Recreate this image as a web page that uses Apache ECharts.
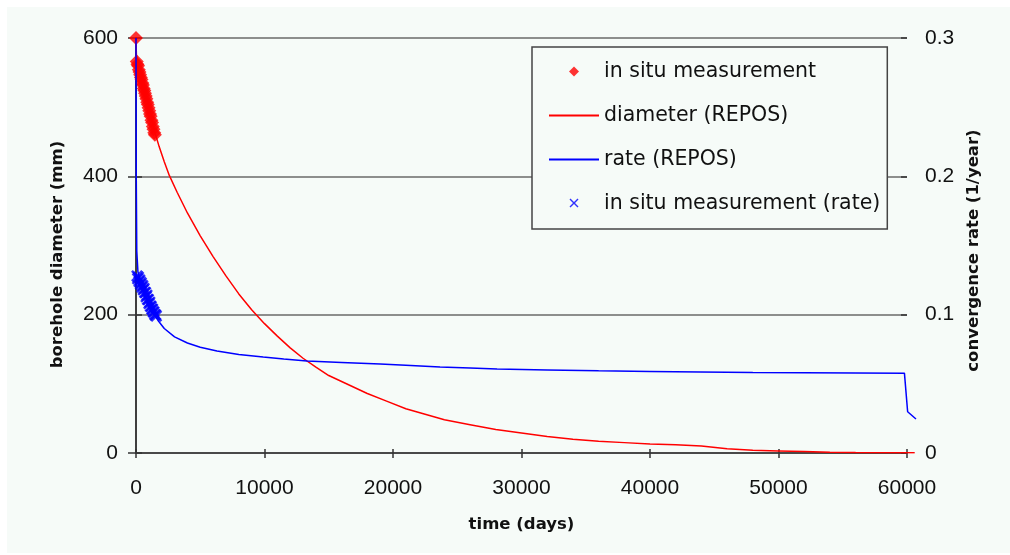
<!DOCTYPE html>
<html>
<head>
<meta charset="utf-8">
<script src="https://cdn.jsdelivr.net/npm/echarts@6/dist/echarts.min.js"></script>
<style>
  html, body { margin: 0; padding: 0; background: #ffffff; }
  #panel { position: absolute; left: 7px; top: 7px; width: 1003px; height: 546px; background: #f6fbf8; }
  #chart { position: absolute; left: 0; top: 0; width: 1010px; height: 555px; }
</style>
</head>
<body>
<div id="panel"></div>
<div id="chart"></div>
<script>
// time (days) ticks
const timeTicks = [0, 10000, 20000, 30000, 40000, 50000, 60000];
// the model curves run a little past the last tick
const modelEnd = 60700;

// in situ borehole diameter measurements [days, mm]
const diameterMeasured = [
  [0, 600],
  [60, 566], [110, 562], [160, 560], [220, 554], [270, 551], [320, 547],
  [380, 543], [430, 540], [490, 535], [540, 532], [600, 527], [650, 524],
  [700, 520], [760, 516], [810, 512], [870, 507], [920, 504], [980, 499],
  [1030, 495], [1090, 490], [1140, 487], [1200, 481], [1250, 478],
  [1310, 472], [1360, 468], [1420, 463], [1470, 460]
];

// REPOS model: borehole diameter [days, mm]
const diameterModel = [
  [0, 600], [30, 576], [200, 561], [500, 538], [800, 514], [1100, 492],
  [1400, 468], [1800, 443], [2200, 421], [2600, 401], [3200, 377],
  [4000, 347], [5000, 314], [6000, 284], [7000, 256], [8000, 230],
  [9000, 207], [10000, 187], [11000, 169], [12000, 152], [13000, 137],
  [14000, 124], [15000, 112], [16500, 99], [18000, 86], [19500, 75],
  [21000, 64], [22500, 56], [24000, 48], [26000, 41], [28000, 34],
  [30000, 29], [32000, 24], [34000, 20], [36000, 17], [38000, 15],
  [40000, 13], [42000, 12], [44000, 10], [46000, 6], [48000, 4],
  [50000, 3], [52000, 2], [54000, 1], [56000, 0.6], [60600, 0.4]
];

// REPOS model: convergence rate [days, 1/year]
const rateModel = [
  [0, 0.3], [20, 0.2], [60, 0.146], [150, 0.131], [400, 0.122],
  [800, 0.112], [1200, 0.103], [1700, 0.096], [2200, 0.09], [3000, 0.084],
  [4000, 0.0795], [5000, 0.0765], [6300, 0.0737], [8000, 0.0712],
  [9900, 0.0694], [11500, 0.068], [13300, 0.0665], [16000, 0.0655],
  [19000, 0.0643], [21000, 0.0635], [23660, 0.0622], [26000, 0.0615],
  [28100, 0.0607], [32000, 0.06], [36000, 0.0594], [40000, 0.059],
  [43900, 0.0586], [48000, 0.0582], [52000, 0.058], [56000, 0.0578],
  [59800, 0.0577], [60050, 0.0298], [60700, 0.0246]
];

// in situ convergence rate measurements [days, 1/year]
const rateMeasured = [
  [80, 0.128], [130, 0.126], [190, 0.127], [240, 0.124], [300, 0.125],
  [350, 0.122], [410, 0.123], [460, 0.12], [520, 0.121], [570, 0.118],
  [630, 0.119], [680, 0.116], [740, 0.116], [790, 0.113], [850, 0.114],
  [900, 0.111], [960, 0.111], [1010, 0.108], [1070, 0.109], [1120, 0.106],
  [1180, 0.106], [1230, 0.104], [1290, 0.104], [1340, 0.102],
  [1400, 0.102], [1460, 0.1], [1520, 0.1], [1580, 0.099]
];

const diameterRange = [0, 600];
const rateRange = [0, 0.3];

// marker shapes
const crossPath = 'path://M0,1.5L1.5,0L5,3.5L8.5,0L10,1.5L6.5,5L10,8.5L8.5,10L5,6.5L1.5,10L0,8.5L3.5,5Z';
// legend icons: the leading moves fix the 50x11 box so the mark keeps its shape
const legendDiamond = 'path://M0,0M50,11M25,0.5L30,5.5L25,10.5L20,5.5Z';
const legendCross = 'path://M0,0M50,11M20.5,1.5L21.5,0.5L25,4L28.5,0.5L29.5,1.5L26,5L29.5,8.5L28.5,9.5L25,6L21.5,9.5L20.5,8.5L24,5Z';

const tickFont = '"Liberation Sans", Arial, sans-serif';
const textFont = '"DejaVu Sans", Verdana, sans-serif';
const axisColor = '#333';

const titleStyle = { fontFamily: textFont, fontSize: 16.5, fontWeight: 'bold', color: '#111' };
const tickLabel = { fontFamily: tickFont, fontSize: 21, color: '#111' };

// plot frame: x = 0 at 136px, x = 60000 at 907px
const plotLeft = 136, plotWidth = 771, plotTop = 38, plotBottom = 102;
const pxPerDay = plotWidth / timeTicks[timeTicks.length - 1];
const wideRight = 1010 - plotLeft - modelEnd * pxPerDay;

const hiddenAxis = {
  axisLine: { show: false }, axisTick: { show: false },
  axisLabel: { show: false }, splitLine: { show: false }
};

const chart = echarts.init(document.getElementById('chart'), null, { renderer: 'canvas' });
chart.setOption({
  backgroundColor: 'transparent',
  animation: false,
  textStyle: { fontFamily: tickFont },
  grid: [
    { left: plotLeft, right: 1010 - plotLeft - plotWidth, top: plotTop, bottom: plotBottom, containLabel: false },
    // same scale, extended to the end of the model curves
    { left: plotLeft, right: wideRight, top: plotTop, bottom: plotBottom, containLabel: false }
  ],
  legend: {
    orient: 'vertical',
    left: 532, top: 47,
    padding: [14, 7, 15, 16],
    itemWidth: 50, itemHeight: 11, itemGap: 23,
    backgroundColor: '#f6fbf8',
    borderColor: '#444', borderWidth: 1.5,
    textStyle: { fontFamily: textFont, fontSize: 20.5, color: '#111', lineHeight: 20 },
    data: [
      { name: 'in situ measurement', icon: legendDiamond },
      { name: 'diameter (REPOS)', itemStyle: { opacity: 0 } },
      { name: 'rate (REPOS)', itemStyle: { opacity: 0 } },
      { name: 'in situ measurement (rate)', icon: legendCross }
    ]
  },
  xAxis: [{
    gridIndex: 0,
    type: 'value', min: timeTicks[0], max: timeTicks[timeTicks.length - 1], interval: 10000,
    position: 'bottom',
    name: 'time (days)', nameLocation: 'middle', nameGap: 63,
    nameTextStyle: titleStyle,
    axisLine: { onZero: false, lineStyle: { color: axisColor, width: 1.5 } },
    axisTick: { show: true, length: 5, lineStyle: { color: axisColor, width: 1.5 } },
    axisLabel: Object.assign({ margin: 25, formatter: v => String(v) }, tickLabel),
    splitLine: { show: false }
  }, {
    // inner half of the crossing ticks on the time axis
    gridIndex: 0,
    type: 'value', min: timeTicks[0], max: timeTicks[timeTicks.length - 1], interval: 10000,
    position: 'bottom',
    axisLine: { show: false, onZero: false },
    axisTick: { show: true, inside: true, length: 4, lineStyle: { color: axisColor, width: 1.5 } },
    axisLabel: { show: false },
    splitLine: { show: false }
  }, Object.assign({
    gridIndex: 1, type: 'value', min: 0, max: modelEnd, position: 'bottom'
  }, hiddenAxis)],
  yAxis: [{
    gridIndex: 0,
    type: 'value', min: diameterRange[0], max: diameterRange[1], interval: 200, position: 'left',
    name: 'borehole diameter (mm)', nameLocation: 'middle', nameGap: 70, nameRotate: 90,
    nameTextStyle: Object.assign({ padding: [0, 18, 0, 0] }, titleStyle),
    axisLine: { show: true, lineStyle: { color: axisColor, width: 1.5 } },
    axisTick: { show: true, length: 8, lineStyle: { color: axisColor, width: 1.5 } },
    axisLabel: Object.assign({ margin: 18 }, tickLabel),
    splitLine: { show: true, lineStyle: { color: '#6a6a6a', width: 1.5 } }
  }, {
    gridIndex: 0,
    type: 'value', min: rateRange[0], max: rateRange[1], interval: 0.1, position: 'right',
    name: 'convergence rate (1/year)', nameLocation: 'middle', nameGap: 56, nameRotate: 90,
    nameTextStyle: Object.assign({ padding: [0, 10, 0, 0] }, titleStyle),
    axisLine: { show: true, lineStyle: { color: axisColor, width: 1.5 } },
    axisTick: { show: true, length: 6, lineStyle: { color: axisColor, width: 1.5 } },
    axisLabel: Object.assign({ margin: 18 }, tickLabel),
    splitLine: { show: false }
  }, {
    // inner half of the crossing ticks on the rate axis
    gridIndex: 0,
    type: 'value', min: rateRange[0], max: rateRange[1], interval: 0.1, position: 'right',
    axisLine: { show: false },
    axisTick: { show: true, inside: true, length: 6, lineStyle: { color: axisColor, width: 1.5 } },
    axisLabel: { show: false },
    splitLine: { show: false }
  }, Object.assign({
    gridIndex: 1, type: 'value', min: diameterRange[0], max: diameterRange[1], position: 'left'
  }, hiddenAxis), Object.assign({
    gridIndex: 1, type: 'value', min: rateRange[0], max: rateRange[1], position: 'right'
  }, hiddenAxis)],
  series: [{
    name: 'in situ measurement', type: 'scatter', xAxisIndex: 0, yAxisIndex: 0,
    symbol: 'diamond', symbolSize: 14,
    itemStyle: { color: '#ff0000' },
    data: diameterMeasured, z: 2
  }, {
    name: 'diameter (REPOS)', type: 'line', xAxisIndex: 2, yAxisIndex: 3,
    symbol: 'none', showSymbol: false,
    lineStyle: { color: '#ff0000', width: 1.5 }, itemStyle: { color: '#ff0000' },
    data: diameterModel, z: 3
  }, {
    name: 'rate (REPOS)', type: 'line', xAxisIndex: 2, yAxisIndex: 4,
    symbol: 'none', showSymbol: false,
    lineStyle: { color: '#0000ff', width: 1.5 }, itemStyle: { color: '#0000ff' },
    data: rateModel, z: 4
  }, {
    name: 'in situ measurement (rate)', type: 'scatter', xAxisIndex: 0, yAxisIndex: 1,
    symbol: crossPath, symbolSize: 12,
    itemStyle: { color: '#0000ff' },
    data: rateMeasured, z: 5
  }]
});
</script>
</body>
</html>
